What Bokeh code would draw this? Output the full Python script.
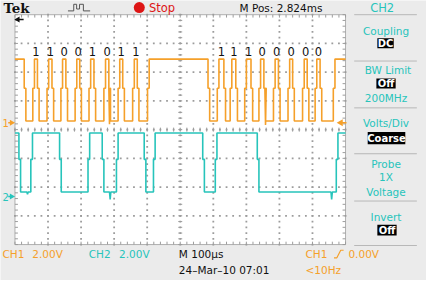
import numpy as np
from bokeh.plotting import figure
from bokeh.models import Range1d, Label
from bokeh.core.properties import value
from bokeh.embed import file_html
from bokeh.resources import INLINE

TIME_PER_DIV_US = 100          # M 100us
VOLTS_PER_DIV = 2.0            # CH1 2.00V, CH2 2.00V
SCREEN_US = 1000               # 10 divisions
EDGE_STEP_US = 5               # small shoulder on every edge

CH1_OFFSET_DIV = 0.24
CH1_LEVELS_V = [0.12, 2.40, 4.43]          # low, shoulder, high
CH1_START_HIGH = True
CH1_RISES_US = [54, 97, 139, 182, 224, 269, 312, 356, 401,
                612, 651, 695, 738, 782, 826, 870, 908, 963]
CH1_FALLS_US = [28, 68, 112, 154, 196, 239, 284, 326, 370,
                584, 632, 668, 714, 753, 797, 840, 884, 923]
CH1_GLITCH_T_US = [286, 758]
CH1_GLITCH_V = [-0.10, -0.15]

CH2_OFFSET_DIV = -2.33
CH2_LEVELS_V = [0.32, 2.59, 4.43]
CH2_START_HIGH = True
CH2_RISES_US = [48, 221, 307, 419, 606, 972]
CH2_FALLS_US = [12, 135, 264, 391, 568, 733]
CH2_GLITCH_T_US = [38, 288, 958]
CH2_GLITCH_V = [0.15, -0.20, -0.20]

BITS_GROUP1 = ["1", "1", "0", "0", "1", "0", "1", "1"]
BITS_GROUP2 = ["1", "1", "1", "0", "0", "0", "0", "0"]
GROUP1_FIRST_PULSE = 0      # index into CH1_RISES_US
GROUP2_FIRST_PULSE = 9

TRIGGER_LEVEL_V = 0.00

ORANGE = "#f5a02a"
CYAN = "#27c4bb"
BG = "#ebebeb"

# ---------------- helpers ----------------
def X(px):   # reference screen pixel -> horizontal division
    return (px - 15) / 34.3

def Y(py):   # reference screen pixel -> vertical division
    return 4 - (py - 15) / 30.375

FS = 0.955   # font scale to fit 442x296 view into 426x280


def build_trace(rises, falls, levels, start_high, gt_list, gv_list, step=EDGE_STEP_US):
    low, mid, high = levels
    t = [0.0]
    v = [high if start_high else low]
    events = sorted([(r, 1) for r in rises] + [(f, 0) for f in falls])
    for time, up in events:
        a, b = (low, high) if up else (high, low)
        t += [time, time, time + step, time + step]
        v += [a, mid, mid, b]
    t.append(SCREEN_US)
    v.append(v[-1])
    for gt, gv in zip(gt_list, gv_list):
        i = int(np.searchsorted(np.array(t), gt))
        base = v[i - 1]
        t[i:i] = [gt - 2, gt, gt + 2]
        v[i:i] = [base, gv, base]
    return np.array(t), np.array(v)


p = figure(width=426, height=280,
           x_range=Range1d(X(0), X(442)), y_range=Range1d(Y(296), Y(0)),
           x_axis_type=None, y_axis_type=None, toolbar_location=None,
           output_backend="svg", min_border=0,
           background_fill_color=BG, border_fill_color=BG, outline_line_color=None)
p.xgrid.visible = False
p.ygrid.visible = False


def label(txt, px, py, color="#111111", size=11, align="left",
          font="DejaVu Sans", style="normal"):
    p.add_layout(Label(x=X(px), y=Y(py), text=txt, text_color=color,
                       text_font_size=f"{size * FS:.1f}px", text_align=align,
                       text_baseline="middle", text_font=font,
                       text_font_style=style))


# ---------------- graticule ----------------
GRID = "#9c9c9c"
p.quad(left=0, right=10, bottom=-4, top=4, fill_color="white",
       line_color="#b0b0b0", line_width=1)

minor_x = np.round(np.arange(0, 10.001, 0.2), 3)
minor_y = np.round(np.arange(-4, 4.001, 0.2), 3)
dx, dy = [], []
for yy in range(-3, 4):
    dx += list(minor_x); dy += [yy] * len(minor_x)
for xx in range(1, 10):
    dx += [xx] * len(minor_y); dy += list(minor_y)
p.scatter(dx, dy, marker="square", size=1.8, color=GRID, line_width=0)

# center ticks
p.segment(x0=minor_x, y0=-0.07, x1=minor_x, y1=0.07, line_color=GRID, line_width=1)
p.segment(x0=4.94, y0=minor_y, x1=5.06, y1=minor_y, line_color=GRID, line_width=1)
# border ticks
p.segment(x0=minor_x, y0=4, x1=minor_x, y1=3.9, line_color=GRID, line_width=1)
p.segment(x0=minor_x, y0=-4, x1=minor_x, y1=-3.9, line_color=GRID, line_width=1)
p.segment(x0=0, y0=minor_y, x1=0.09, y1=minor_y, line_color=GRID, line_width=1)
p.segment(x0=10, y0=minor_y, x1=9.91, y1=minor_y, line_color=GRID, line_width=1)

# ---------------- waveforms ----------------
t1, v1 = build_trace(CH1_RISES_US, CH1_FALLS_US, CH1_LEVELS_V, CH1_START_HIGH,
                     CH1_GLITCH_T_US, CH1_GLITCH_V)
t2, v2 = build_trace(CH2_RISES_US, CH2_FALLS_US, CH2_LEVELS_V, CH2_START_HIGH,
                     CH2_GLITCH_T_US, CH2_GLITCH_V)
p.line(t1 / TIME_PER_DIV_US, CH1_OFFSET_DIV + v1 / VOLTS_PER_DIV,
       line_color=ORANGE, line_width=1.6)
p.line(t2 / TIME_PER_DIV_US, CH2_OFFSET_DIV + v2 / VOLTS_PER_DIV,
       line_color=CYAN, line_width=1.6)

# bit labels above CH1 pulses
def pulse_centers(first):
    rs = np.array(CH1_RISES_US[first:first + 8], dtype=float)
    fs = np.array(sorted(CH1_FALLS_US))
    cs = []
    for r in rs:
        f = fs[fs > r][0]
        cs.append((r + EDGE_STEP_US + f) / 2 / TIME_PER_DIV_US)
    return cs

bx = pulse_centers(GROUP1_FIRST_PULSE) + pulse_centers(GROUP2_FIRST_PULSE)
p.text(x=bx, y=[Y(54)] * len(bx), text=BITS_GROUP1 + BITS_GROUP2,
       text_font=value("DejaVu Sans"), text_font_size=f"{12 * FS:.1f}px",
       text_color="#111111", text_align="center", text_baseline="middle")

# channel ground markers (left) and trigger level (right)
g1 = CH1_OFFSET_DIV
g2 = CH2_OFFSET_DIV
label("1", 2, 130, ORANGE, 10.5)
label("2", 2, 208, CYAN, 10.5)
p.scatter(x=[X(11.5)], y=[g1], marker="triangle", angle=-np.pi / 2, size=6,
          color=ORANGE, line_width=0)
p.scatter(x=[X(11.5)], y=[g2], marker="triangle", angle=-np.pi / 2, size=6,
          color=CYAN, line_width=0)
p.segment(x0=[X(8)], y0=[g1], x1=[X(11)], y1=[g1], line_color=ORANGE, line_width=1.5)
p.segment(x0=[X(8)], y0=[g2], x1=[X(11)], y1=[g2], line_color=CYAN, line_width=1.5)

tl = CH1_OFFSET_DIV + TRIGGER_LEVEL_V / VOLTS_PER_DIV
p.scatter(x=[X(353)], y=[tl], marker="triangle", angle=np.pi / 2, size=7,
          color=ORANGE, line_width=0)
p.segment(x0=[X(353)], y0=[tl], x1=[X(359)], y1=[tl], line_color=ORANGE, line_width=1.5)

# trigger position arrow (top-left, off screen to the left)
p.scatter(x=[X(18)], y=[Y(20)], marker="triangle", angle=np.pi / 2, size=6,
          color="#111111", line_width=0)
p.segment(x0=[X(18)], y0=[Y(20)], x1=[X(24)], y1=[Y(20)], line_color="#111111", line_width=1.5)

# ---------------- top bar ----------------
label("Tek", 3, 8, "#111111", 14, font="DejaVu Serif", style="bold")
icon_x = [70, 76, 76, 79, 79, 82, 82, 86, 86, 93]
icon_y = [11, 11, 4, 4, 9, 9, 4, 4, 11, 11]
p.line([X(v) for v in icon_x], [Y(v) for v in icon_y], line_color="#555555",
       line_width=1)
p.scatter(x=[X(144)], y=[Y(7.5)], marker="circle", size=11, color="#dd1515", line_width=0)
label("Stop", 154, 7.5, "#dd1515", 12)
label("M Pos: 2.824ms", 248, 7.5, "#111111", 11)

# ---------------- right menu ----------------
for sy in [15, 64, 113.5, 162, 212, 259]:
    p.segment(x0=[X(367)], y0=[Y(sy)], x1=[X(432)], y1=[Y(sy)],
              line_color="#b8b8b8", line_width=1)

CX = 400
label("CH2", CX - 4, 7.5, CYAN, 12, align="center")
label("Coupling", CX, 32.5, CYAN, 11, align="center")
label("BW Limit", CX + 2, 73.5, CYAN, 11, align="center")
label("200MHz", CX, 103, CYAN, 11, align="center")
label("Volts/Div", CX, 130, CYAN, 11, align="center")
label("Probe", CX, 173, CYAN, 11, align="center")
label("1X", CX, 187, CYAN, 11, align="center")
label("Voltage", CX, 202, CYAN, 11, align="center")
label("Invert", CX, 228.5, CYAN, 11, align="center")

for (l, r, t, b, txt) in [(391, 408, 40, 50.5, "DC"), (390, 410, 82.5, 93, "Off"),
                          (381, 420, 139, 152, "Coarse"), (391, 411, 237, 248.5, "Off")]:
    p.quad(left=X(l), right=X(r), top=Y(t), bottom=Y(b), fill_color="#000000",
           line_color=None)
    label(txt, (l + r) / 2, (t + b) / 2 + 0.3, "white", 10.5, align="center", style="bold")

# ---------------- bottom status ----------------
label("CH1", 2, 268, ORANGE, 11)
label("2.00V", 33, 268, ORANGE, 11)
label("CH2", 91.5, 268, CYAN, 11)
label("2.00V", 123, 268, CYAN, 11)
label("M 100\u00b5s", 185, 268, "#111111", 11)
label("24\u2013Mar\u201310 07:01", 185, 284.5, "#111111", 11)
label("CH1", 316.5, 268, ORANGE, 11)
p.line([X(v) for v in [346, 349, 353, 356]], [Y(v) for v in [272, 272, 264, 264]],
       line_color=ORANGE, line_width=1.2)
label("0.00V", 361, 268, ORANGE, 11)
label("<10Hz", 316.5, 284.5, ORANGE, 11)

open("out.html", "w").write(file_html(p, INLINE))
